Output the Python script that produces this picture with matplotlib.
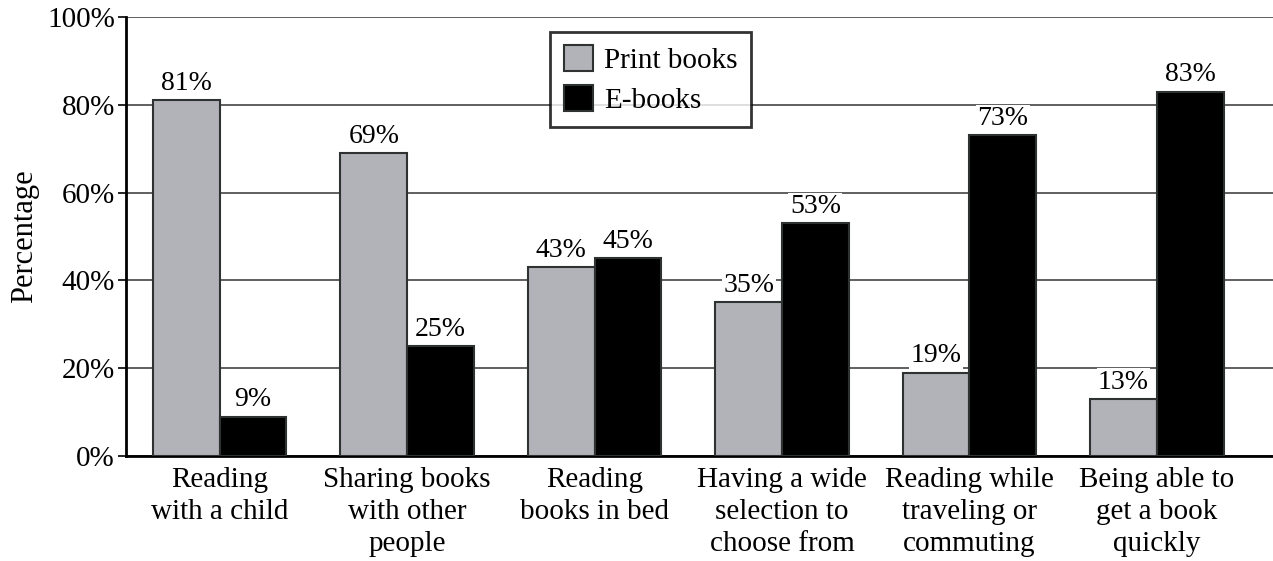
import matplotlib.pyplot as plt
import numpy as np

categories = ["Reading\nwith a child", "Sharing books\nwith other\npeople",
              "Reading\nbooks in bed", "Having a wide\nselection to\nchoose from",
              "Reading while\ntraveling or\ncommuting", "Being able to\nget a book\nquickly"]
print_books = [81, 69, 43, 35, 19, 13]
e_books = [9, 25, 45, 53, 73, 83]
yticks = [0, 20, 40, 60, 80, 100]

plt.rcParams['font.family'] = ['Liberation Serif', 'DejaVu Serif']

fig = plt.figure(figsize=(12.73, 5.61), dpi=100)
ax = fig.add_axes([0.099, 0.187, 0.901, 0.783])

x = np.arange(len(categories))
w = 0.356
gray = "#b1b3b8"
b1 = ax.bar(x - w / 2, print_books, w, color=gray, edgecolor="#2e3230", linewidth=1.5,
            label="Print books", zorder=3)
b2 = ax.bar(x + w / 2, e_books, w, color="black", edgecolor="#2e3230", linewidth=1.5,
            label="E-books", zorder=3)

for bars, vals in [(b1, print_books), (b2, e_books)]:
    for bar, v in zip(bars, vals):
        ax.annotate(f"{v}%", (bar.get_x() + bar.get_width() / 2, v),
                    xytext=(0, 3), textcoords="offset points",
                    ha="center", va="bottom", fontsize=20, zorder=4,
                    bbox=dict(facecolor="white", edgecolor="none", pad=1))

ax.set_xlim(-0.5, 5.62)
ax.set_ylim(0, 100)
ax.set_yticks(yticks)
ax.set_yticklabels([f"{t}%" for t in yticks], fontsize=21)
ax.set_xticks(x)
ax.set_xticklabels(categories, fontsize=21, linespacing=1.3)
ax.tick_params(axis="x", length=0, pad=8)
ax.tick_params(axis="y", length=6, width=1.2, pad=2)
ax.yaxis.grid(True, color="#444444", linewidth=1.2, zorder=0)
ax.set_axisbelow(True)

ax.spines["top"].set_visible(False)
ax.spines["right"].set_visible(False)
ax.spines["left"].set_linewidth(2)
ax.spines["bottom"].set_linewidth(2)

ax.set_ylabel("Percentage", fontsize=22, labelpad=6)

leg = ax.legend(loc="upper left", bbox_to_anchor=(0.37, 0.965), fontsize=21,
                frameon=True, fancybox=False, edgecolor="black",
                handlelength=1.0, handleheight=1.0, handletextpad=0.4,
                borderpad=0.45, labelspacing=0.35, borderaxespad=0)
leg.get_frame().set_linewidth(2)
leg.set_zorder(5)

fig.savefig("out.png", dpi=100, facecolor="white")
